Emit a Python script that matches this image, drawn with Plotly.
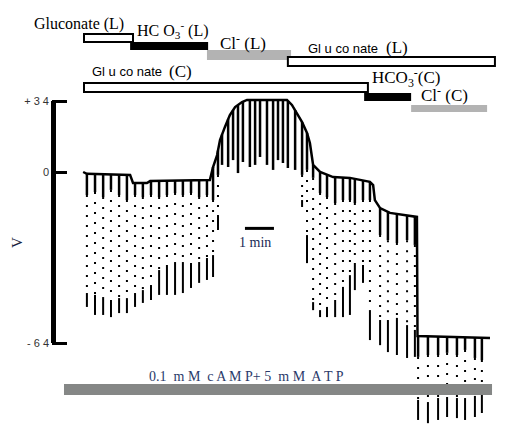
import numpy as np
import plotly.graph_objects as go

W, H = 531, 440

# envelope of the membrane potential record (time in min, potential in mV)
env_t = [-0.03, 0.10, 1.59, 1.69, 2.17, 2.28, 4.34, 4.45, 4.59, 4.69, 4.86, 5.03, 5.21, 5.45,
         5.62, 7.00, 7.17, 7.34, 7.52, 7.69, 7.79, 7.86, 7.90, 8.14, 8.59, 9.17, 9.86, 9.97,
         10.03, 10.21, 10.55, 11.48, 11.50, 14.00]
env_v = [0.0, -0.7, -1.1, -4.1, -4.1, -3.4, -3.0, 2.4, 8.1, 15.3, 21.6, 27.3, 31.1, 33.5,
         34.5, 34.5, 32.1, 28.3, 23.9, 18.7, 13.9, 7.2, 3.4, 0.0, -1.9, -2.2, -3.7, -4.9,
         -10.5, -13.5, -15.3, -16.8, -61.4, -62.1]

# current pulse deflections
pulse_t = [0.10, 0.38, 0.66, 0.93, 1.21, 1.48, 1.76, 2.03, 2.31, 2.59, 2.86, 3.14, 3.41, 3.69,
           3.97, 4.24, 4.45, 4.62,
           4.76, 4.97, 5.14, 5.31, 5.48, 5.72, 5.90, 6.07, 6.31, 6.52, 6.69, 6.86, 7.03, 7.28,
           7.52, 7.69,
           7.90, 8.14, 8.38, 8.66, 8.93, 9.17, 9.34, 9.62, 9.86,
           10.21, 10.48, 10.79, 11.14, 11.41,
           11.52, 11.86, 12.21, 12.52, 12.86, 13.14, 13.48, 13.72]
pulse_knee = [-8.6, -7.5, -9.4, -6.7, -8.6, -10.5, -8.6, -9.4, -8.6, -9.4, -8.6, -7.9, -8.6, -7.9,
              -9.4, -8.6, -10.5, -1.1,
              3.4, 2.4, 5.7, -0.4, 4.8, 2.4, 3.4, 7.2, 3.4, 1.0, 5.7, 4.3, 1.9, 1.0,
              -1.1, 1.0,
              -2.2, -7.9, -9.4, -11.6, -10.5, -10.5, -11.6, -10.5, -10.5,
              -23.6, -25.5, -26.6, -25.5, -27.3,
              -69.2, -68.5, -68.5, -67.7, -68.5, -66.6, -69.6, -70.4]
pulse_low = [-45.3, -46.0, -46.8, -47.9, -47.2, -47.2, -45.3, -44.2, -42.3, -36.7, -34.8, -33.7,
             -33.7, -34.8, -33.7, -32.2, -31.1, -16.1,
             3.4, 2.4, 5.7, -0.4, 4.8, 2.4, 3.4, 7.2, 3.4, 1.0, 5.7, 4.3, 1.9, 1.0,
             -10.5, -23.6,
             -48.7, -51.7, -50.5, -47.9, -43.0, -38.6, -34.8, -34.8, -51.7,
             -55.4, -55.4, -54.6, -57.3, -59.1,
             -85.3, -86.1, -84.6, -84.2, -84.6, -84.6, -83.8, -83.4]
pulse_min = [-50.5, -53.5, -53.5, -54.3, -52.8, -52.8, -50.5, -49.0, -47.9, -46.0, -46.0, -46.0,
             -45.3, -43.4, -41.5, -40.4, -39.3, -21.7,
             3.4, 2.4, 5.7, -0.4, 4.8, 2.4, 3.4, 7.2, 3.4, 1.0, 5.7, 4.3, 1.9, 1.0,
             -13.1, -34.1,
             -51.7, -54.3, -54.3, -54.3, -54.3, -53.5, -44.2, -41.5, -62.9,
             -64.8, -67.4, -68.5, -69.6, -69.2,
             -92.8, -94.0, -92.8, -91.7, -92.1, -92.8, -91.7, -90.2]

# solution changes (min)
lumen_start = [0.0, 1.59, 4.24, 7.03]
lumen_end = [1.69, 4.28, 7.14, 14.17]
lumen_kind = ["glu", "hco3", "cl", "glu"]
cell_start = [0.0, 9.66, 11.28]
cell_end = [9.79, 11.28, 13.90]
cell_kind = ["glu", "hco3", "cl"]
camp_start, camp_end = -0.69, 14.07

tick_mv = [34, 0, -64]
tick_text = ["+ 3 4", "0", "- 6 4"]

# the upper half of the original scale bar is drawn compressed
POS = 26.57 / 34


def yv(v):
    return v * POS if v > 0 else v


def px(x, y):
    return x / W, 1 - y / H


PX_MIN = 29.0  # pixels per minute
T0 = 84
fig = go.Figure()

fig.add_trace(go.Scatter(x=env_t, y=[yv(v) for v in env_v], mode="lines",
                         line=dict(color="black", width=2.5), hoverinfo="skip"))

top = np.interp(pulse_t, env_t, env_v)
xs_a, ys_a, xs_b, ys_b, xs_c, ys_c = [], [], [], [], [], []
for t, a, k, l, m in zip(pulse_t, top, pulse_knee, pulse_low, pulse_min):
    xs_a += [t, t, None]
    ys_a += [yv(a), yv(k), None]
    if l < k:
        xs_b += [t, t, None]
        ys_b += [yv(k), yv(l), None]
    if m < l:
        xs_c += [t, t, None]
        ys_c += [yv(l), yv(m), None]

fig.add_trace(go.Scatter(x=xs_a, y=ys_a, mode="lines", line=dict(color="black", width=2.5),
                         hoverinfo="skip"))
fig.add_trace(go.Scatter(x=xs_b, y=ys_b, mode="lines",
                         line=dict(color="black", width=2, dash="2px,8px"), hoverinfo="skip"))
fig.add_trace(go.Scatter(x=xs_c, y=ys_c, mode="lines", line=dict(color="black", width=2),
                         hoverinfo="skip"))

styles = {"glu": dict(fillcolor="white", line=dict(color="black", width=2)),
          "hco3": dict(fillcolor="black", line=dict(width=0)),
          "cl": dict(fillcolor="#b3b3b3", line=dict(width=0))}
lumen_rows = [(34, 42), (42, 50), (50, 60), (57, 66)]
cell_rows = [(83, 92), (93, 101), (105, 112)]
for s, e, k, (y0, y1) in zip(lumen_start, lumen_end, lumen_kind, lumen_rows):
    fig.add_shape(type="rect", xref="x", yref="paper", x0=s, x1=e,
                  y0=1 - y1 / H, y1=1 - y0 / H, **styles[k])
for s, e, k, (y0, y1) in zip(cell_start, cell_end, cell_kind, cell_rows):
    fig.add_shape(type="rect", xref="x", yref="paper", x0=s, x1=e,
                  y0=1 - y1 / H, y1=1 - y0 / H, **styles[k])
fig.add_shape(type="rect", xref="x", yref="paper", x0=camp_start, x1=camp_end,
              y0=1 - 395 / H, y1=1 - 384 / H, fillcolor="#858786", line=dict(width=0))

# scale bars
fig.add_shape(type="line", xref="paper", yref="y", x0=53.5 / W, x1=53.5 / W,
              y0=yv(34), y1=-64, line=dict(color="black", width=5))
fig.add_shape(type="line", xref="x", yref="y", x0=5.55, x1=6.55, y0=-21.1, y1=-21.1,
              line=dict(color="black", width=3))

serif = "Liberation Serif"
sans = "Liberation Sans"
labels = [
    ("Gluconate (L)", 79, 24, serif, 16),
    ("HC O<sub>3</sub><sup>-</sup> (L)", 173, 30, serif, 16),
    ("Cl<sup>-</sup> (L)", 243, 42, serif, 17),
    ("Gl u co nate", 343, 48, sans, 13),
    ("(L)", 397, 47, serif, 17),
    ("Gl u co nate", 127, 72, sans, 13),
    ("(C)", 180, 71, serif, 17),
    ("HCO<sub>3</sub><sup>-</sup>(C)", 406, 78, serif, 17),
    ("Cl<sup>-</sup> (C)", 444, 94, serif, 17),
]
for text, x, y, fam, size in labels:
    ax, ay = px(x, y)
    fig.add_annotation(text=text, x=ax, y=ay, xref="paper", yref="paper", showarrow=False,
                       xanchor="center", yanchor="middle",
                       font=dict(family=fam, size=size, color="black"))

ax, ay = px(17, 243)
fig.add_annotation(text="V", x=ax, y=ay, xref="paper", yref="paper", showarrow=False,
                   xanchor="center", yanchor="middle",
                   textangle=-90, font=dict(family=serif, size=15, color="#1a2340"))
ax, ay = px(255, 242)
fig.add_annotation(text="1 min", x=ax, y=ay, xref="paper", yref="paper", showarrow=False,
                   xanchor="center", yanchor="middle",
                   font=dict(family=serif, size=14, color="#1a2a55"))
ax, ay = px(246, 376)
fig.add_annotation(text="0.1  m M  c A M P+ 5  m M  A T P", x=ax, y=ay, xref="paper",
                   yref="paper", showarrow=False, xanchor="center", yanchor="middle",
                   font=dict(family=serif, size=14, color="#2a3a6a"))

fig.update_layout(
    width=W, height=H, margin=dict(l=0, r=0, t=0, b=0),
    paper_bgcolor="white", plot_bgcolor="white", showlegend=False,
    xaxis=dict(range=[-T0 / PX_MIN, (W - T0) / PX_MIN], visible=False),
    yaxis=dict(range=[(172 - H) / 2.672, 172 / 2.672], anchor="free", position=51 / W,
               showgrid=False, zeroline=False, showline=False,
               tickvals=[yv(v) for v in tick_mv], ticktext=tick_text,
               ticks="inside", ticklen=15, tickwidth=3, tickcolor="black",
               ticklabelstandoff=2,
               tickfont=dict(family=sans, size=11, color="#333333")),
)

fig.write_html("out.html", config={"displayModeBar": False},
               post_script="document.body.style.margin='0';")
